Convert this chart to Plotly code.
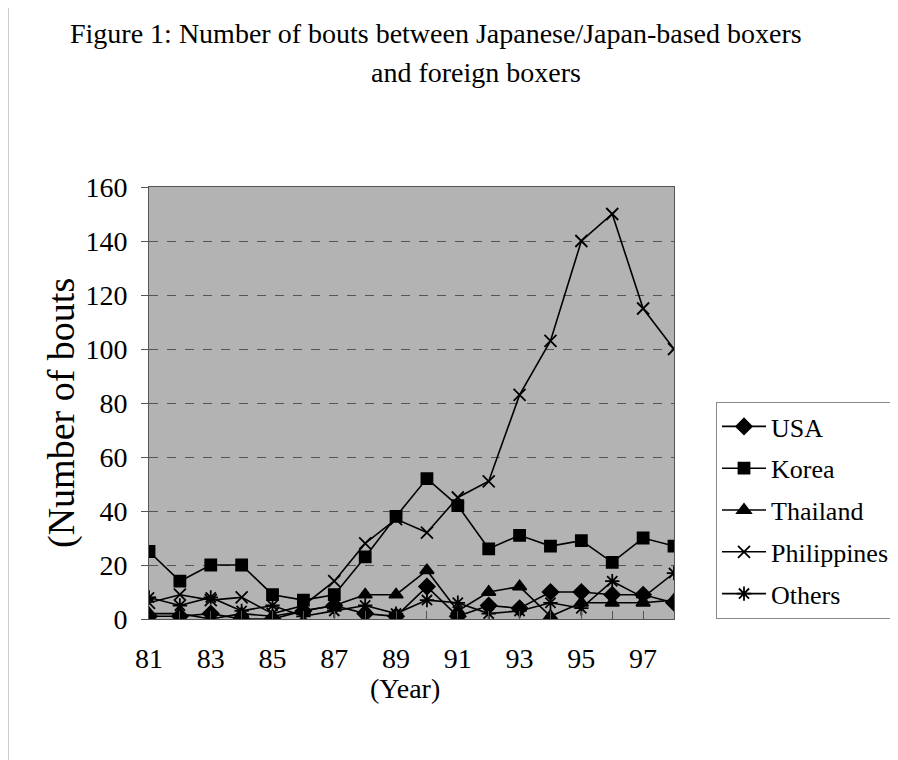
import plotly.graph_objects as go

years = list(range(81, 99))
tick_labels = [str(y) if y % 2 == 1 else "" for y in years]

usa         = [1, 1, 2, 0, 0, 3, 5, 2, 1, 12, 1, 5, 4, 10, 10, 9, 9, 6]
korea       = [25, 14, 20, 20, 9, 7, 9, 23, 38, 52, 42, 26, 31, 27, 29, 21, 30, 27]
thailand    = [2, 2, 0, 2, 1, 3, 5, 9, 9, 18, 3, 10, 12, 1, 6, 6, 6, 7]
philippines = [6, 9, 7, 8, 2, 5, 14, 28, 37, 32, 45, 51, 83, 103, 140, 150, 115, 100]
others      = [8, 5, 8, 3, 5, 1, 3, 5, 2, 7, 6, 2, 3, 6, 4, 14, 8, 17]

series = [
    ("USA", usa, "diamond", 12),
    ("Korea", korea, "square", 11),
    ("Thailand", thailand, "triangle-up", 12),
    ("Philippines", philippines, "x-thin", 12),
    ("Others", others, "asterisk", 12),
]

FONT = "Liberation Serif"

fig = go.Figure()
for name, vals, sym, sz in series:
    fig.add_trace(go.Scatter(
        x=years, y=vals, name=name, mode="lines+markers",
        line=dict(color="black", width=1.6),
        marker=dict(symbol=sym, size=sz, color="black",
                    line=dict(color="black", width=1.8)),
        legendgroup=name,
    ))

# page has an 8px body margin: target page coordinates, figure shifted by 8
OFF = 8
FW, FH = 898 - OFF, 760 - OFF
PL, PR, PT, PB = 149, 674, 187, 619
L, R, T, B = PL - OFF, FW - (PR - OFF), PT - OFF, FH - (PB - OFF)
W, H = PR - PL, PB - PT

def px(xp):
    return (xp - PL) / W

def py(yp):
    return (PB - yp) / H

fig.update_layout(
    width=FW, height=FH,
    margin=dict(l=L, r=R, t=T, b=B, autoexpand=False),
    paper_bgcolor="white",
    plot_bgcolor="#b3b3b3",
    font=dict(family=FONT, size=28, color="black"),
    showlegend=True,
    legend=dict(
        x=px(716), y=py(402), xanchor="left", yanchor="top",
        bordercolor="#888888", borderwidth=1, bgcolor="white",
        font=dict(family=FONT, size=26, color="black"),
        tracegroupgap=5, itemwidth=44,
    ),
    xaxis=dict(
        range=[81, 98], tickvals=years, ticktext=tick_labels,
        ticks="inside", ticklen=8, tickcolor="#555555",
        showgrid=False, zeroline=False,
        showline=True, linecolor="#555555", linewidth=1, mirror=True,
        tickfont=dict(family=FONT, size=28), ticklabelstandoff=14,
    ),
    yaxis=dict(
        range=[0, 160], dtick=20, ticks="outside", ticklen=7,
        tickcolor="#555555",
        showgrid=True, gridcolor="#555555", gridwidth=1, griddash="dash",
        zeroline=False,
        showline=True, linecolor="#555555", linewidth=1, mirror=True,
        tickfont=dict(family=FONT, size=28), ticklabelstandoff=8,
    ),
    annotations=[
        dict(text="Figure 1: Number of bouts between Japanese/Japan-based boxers",
             x=px(436), y=py(33), xref="paper", yref="paper",
             xanchor="center", yanchor="middle",
             showarrow=False, font=dict(family=FONT, size=28)),
        dict(text="and foreign boxers",
             x=px(476), y=py(72), xref="paper", yref="paper",
             xanchor="center", yanchor="middle",
             showarrow=False, font=dict(family=FONT, size=28)),
        dict(text="(Number of bouts",
             x=px(61), y=py(413), xref="paper", yref="paper",
             xanchor="center", yanchor="middle",
             textangle=-90, showarrow=False, font=dict(family=FONT, size=38)),
        dict(text="(Year)",
             x=px(405), y=py(688), xref="paper", yref="paper",
             xanchor="center", yanchor="middle",
             showarrow=False, font=dict(family=FONT, size=28)),
    ],
    shapes=[
        dict(type="line", xref="paper", yref="paper",
             x0=px(8), x1=px(8), y0=py(8), y1=py(760),
             line=dict(color="#cccccc", width=2)),
    ],
)

fig.write_html("out.html")
